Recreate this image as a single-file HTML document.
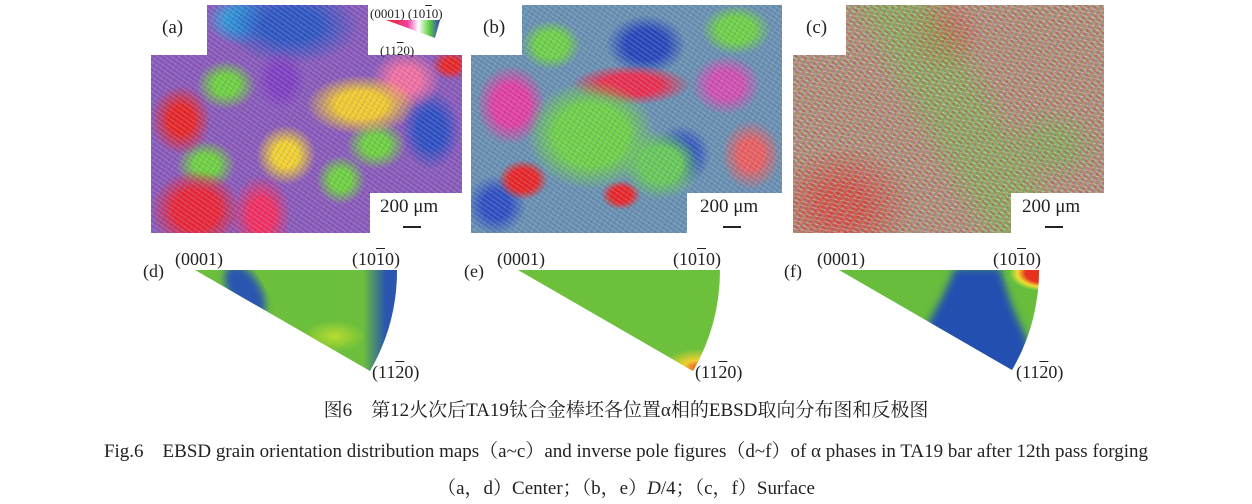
<!DOCTYPE html>
<html><head><meta charset="utf-8"><style>
html,body{margin:0;padding:0;background:#fff;}
body{width:1252px;height:504px;position:relative;overflow:hidden;font-family:"Liberation Serif","Noto Serif CJK SC",serif;}
.t{position:absolute;white-space:nowrap;color:#222;line-height:1;}
.ov{text-decoration:overline;}
.map{position:absolute;top:5px;width:311px;height:228px;}
.tex{position:absolute;left:0;top:0;width:100%;height:100%;
background:repeating-linear-gradient(35deg,rgba(255,255,255,.18) 0 1px,transparent 1px 4px),repeating-linear-gradient(-60deg,rgba(30,40,160,.15) 0 1px,transparent 1px 5px);}
</style></head><body>
<!-- (a) -->
<div class="map" style="left:151px;clip-path:polygon(56px 0,217px 0,217px 50px,311px 50px,311px 188px,219px 188px,219px 228px,0 228px,0 50px,56px 50px);
background:
radial-gradient(ellipse 30px 35px at 30px 115px,#e82828 40%,transparent 100%),
radial-gradient(ellipse 45px 40px at 45px 205px,#e82838 50%,transparent 100%),
radial-gradient(ellipse 30px 40px at 110px 210px,#f03060 40%,transparent 100%),
radial-gradient(ellipse 55px 30px at 210px 100px,#f0c830 45%,transparent 100%),
radial-gradient(ellipse 35px 30px at 255px 75px,#f070a0 40%,transparent 100%),
radial-gradient(ellipse 30px 30px at 135px 150px,#f0d030 40%,transparent 100%),
radial-gradient(ellipse 30px 25px at 75px 80px,#70d040 40%,transparent 100%),
radial-gradient(ellipse 30px 25px at 55px 160px,#70d040 40%,transparent 100%),
radial-gradient(ellipse 30px 25px at 225px 140px,#70d040 40%,transparent 100%),
radial-gradient(ellipse 25px 25px at 190px 175px,#70d040 40%,transparent 100%),
radial-gradient(ellipse 30px 40px at 280px 125px,#3050c0 45%,transparent 100%),
radial-gradient(ellipse 25px 30px at 130px 75px,#8040c0 45%,transparent 100%),
radial-gradient(ellipse 20px 15px at 300px 60px,#e82828 40%,transparent 100%),
radial-gradient(ellipse 70px 40px at 140px 20px,#3058c0 40%,transparent 100%),
radial-gradient(ellipse 35px 25px at 90px 15px,#30a0d8 40%,transparent 100%),
linear-gradient(#8a5ab8,#8a5ab8);">
<div class="tex"></div></div>
<!-- (b) -->
<div class="map" style="left:471px;clip-path:polygon(51px 0,311px 0,311px 188px,216px 188px,216px 228px,0 228px,0 50px,51px 50px);
background:
radial-gradient(ellipse 65px 55px at 120px 130px,#70d048 55%,transparent 100%),
radial-gradient(ellipse 40px 35px at 190px 160px,#68c858 50%,transparent 100%),
radial-gradient(ellipse 35px 40px at 40px 100px,#e040a0 50%,transparent 100%),
radial-gradient(ellipse 25px 20px at 52px 175px,#e82828 55%,transparent 100%),
radial-gradient(ellipse 20px 15px at 150px 190px,#e82828 50%,transparent 100%),
radial-gradient(ellipse 60px 20px at 160px 80px,#e83050 50%,transparent 100%),
radial-gradient(ellipse 35px 30px at 255px 80px,#d050b0 45%,transparent 100%),
radial-gradient(ellipse 30px 30px at 210px 150px,#3050c0 45%,transparent 100%),
radial-gradient(ellipse 30px 30px at 25px 200px,#3050c0 45%,transparent 100%),
radial-gradient(ellipse 40px 30px at 175px 40px,#2848b8 50%,transparent 100%),
radial-gradient(ellipse 30px 25px at 80px 40px,#70d048 50%,transparent 100%),
radial-gradient(ellipse 35px 25px at 265px 25px,#70d048 50%,transparent 100%),
radial-gradient(ellipse 30px 35px at 280px 150px,#e86060 40%,transparent 100%),
linear-gradient(#6a90b0,#6a90b0);">
<div class="tex"></div></div>
<!-- (c) -->
<div class="map" style="left:793px;clip-path:polygon(53px 0,311px 0,311px 188px,218px 188px,218px 228px,0 228px,0 50px,53px 50px);
background:
repeating-linear-gradient(50deg,rgba(232,40,40,.3) 0 2px,transparent 2px 5px),
repeating-linear-gradient(-40deg,rgba(90,200,70,.35) 0 2px,transparent 2px 6px),
repeating-linear-gradient(10deg,rgba(255,255,255,.3) 0 1px,transparent 1px 4px),
repeating-linear-gradient(100deg,rgba(60,70,200,.2) 0 1px,transparent 1px 7px),
linear-gradient(60deg,transparent 40%,rgba(100,200,70,.5) 48%,rgba(100,200,70,.5) 58%,transparent 66%),
radial-gradient(ellipse 70px 60px at 50px 200px,rgba(230,50,50,.7) 30%,transparent 100%),
radial-gradient(ellipse 40px 40px at 150px 30px,rgba(230,50,50,.5) 20%,transparent 100%),
radial-gradient(ellipse 50px 40px at 260px 140px,rgba(90,200,70,.5) 30%,transparent 100%),
linear-gradient(#b09080,#b09080);">
<div class="tex"></div></div>
<svg width="1252" height="504" style="position:absolute;left:0;top:0">
<defs>
<linearGradient id="lg" x1="0" y1="0" x2="1" y2="0"><stop offset="0" stop-color="#e82020"/><stop offset=".4" stop-color="#f040a0"/><stop offset=".6" stop-color="#fff"/><stop offset=".8" stop-color="#60d040"/><stop offset="1" stop-color="#3040c0"/></linearGradient>
<linearGradient id="dg2" x1="0" y1="0" x2="1" y2="0"><stop offset="0.82" stop-color="#2a55b0" stop-opacity="0"/><stop offset="0.93" stop-color="#2a55b0"/></linearGradient>
<radialGradient id="dg3" cx="0.68" cy="0.65" r="0.15"><stop offset="0" stop-color="#b8dc30"/><stop offset="1" stop-color="#b8dc30" stop-opacity="0"/></radialGradient>
<radialGradient id="eg1" cx="0.88" cy="0.95" r="0.18"><stop offset="0" stop-color="#f04020"/><stop offset="0.4" stop-color="#f0d030"/><stop offset="1" stop-color="#f0d030" stop-opacity="0"/></radialGradient>
<radialGradient id="fg1" cx="1" cy="0.05" r="0.2"><stop offset="0" stop-color="#e83020"/><stop offset="0.45" stop-color="#e83020"/><stop offset="0.65" stop-color="#f0e030"/><stop offset="0.85" stop-color="#60c040"/><stop offset="1" stop-color="#60c040" stop-opacity="0"/></radialGradient>
<filter id="bl"><feGaussianBlur stdDeviation="4"/></filter>
<clipPath id="cd"><path d="M195,270 L397,270 A202,202 0 0 1 370,371 Z"/></clipPath>
<clipPath id="ce"><path d="M518,270 L720,270 A202,202 0 0 1 693,371 Z"/></clipPath>
<clipPath id="cf"><path d="M839,270 L1039,270 A200,200 0 0 1 1012,370 Z"/></clipPath>
</defs>
<path d="M386,20 L440,20 L435,38 Z" fill="url(#lg)"/>
<g clip-path="url(#cd)">
<rect x="195" y="268" width="205" height="105" fill="#6cbf3c"/>
<ellipse cx="245" cy="292" rx="16" ry="30" transform="rotate(-30 245 292)" fill="#2a55b0" filter="url(#bl)"/>
<rect x="195" y="268" width="205" height="105" fill="url(#dg2)"/>
<rect x="195" y="268" width="205" height="105" fill="url(#dg3)"/>
</g>
<g clip-path="url(#ce)">
<rect x="518" y="268" width="205" height="105" fill="#6cc03c"/>
<rect x="518" y="268" width="205" height="105" fill="url(#eg1)"/>
</g>
<g clip-path="url(#cf)">
<rect x="839" y="268" width="205" height="105" fill="#68bd3c"/>
<path d="M955,268 L1000,268 Q1010,305 1025,335 L1040,380 L890,380 Q935,320 955,268 Z" fill="#2350b0" filter="url(#bl)"/>
<rect x="839" y="268" width="205" height="105" fill="url(#fg1)"/>
</g>
</svg>
<div class="t" style="left:162px;top:18px;font-size:19px">(a)</div>
<div class="t" style="left:483px;top:18px;font-size:19px">(b)</div>
<div class="t" style="left:806px;top:18px;font-size:19px">(c)</div>
<div class="t" style="left:370px;top:7px;font-size:13px">(0001) (10<span class="ov">1</span>0)</div>
<div class="t" style="left:380px;top:44px;font-size:13px">(11<span class="ov">2</span>0)</div>
<div class="t" style="left:380px;top:197px;font-size:19px">200 μm</div>
<div class="t" style="left:700px;top:197px;font-size:19px">200 μm</div>
<div class="t" style="left:1022px;top:197px;font-size:19px">200 μm</div>
<div style="position:absolute;left:403px;top:226px;width:18px;height:2px;background:#222"></div>
<div style="position:absolute;left:723px;top:226px;width:18px;height:2px;background:#222"></div>
<div style="position:absolute;left:1045px;top:226px;width:18px;height:2px;background:#222"></div>
<div class="t" style="left:143px;top:262px;font-size:18px">(d)</div>
<div class="t" style="left:175px;top:250px;font-size:18px">(0001)</div>
<div class="t" style="left:352px;top:250px;font-size:18px">(10<span class="ov">1</span>0)</div>
<div class="t" style="left:372px;top:363px;font-size:18px">(11<span class="ov">2</span>0)</div>
<div class="t" style="left:464px;top:262px;font-size:18px">(e)</div>
<div class="t" style="left:497px;top:250px;font-size:18px">(0001)</div>
<div class="t" style="left:673px;top:250px;font-size:18px">(10<span class="ov">1</span>0)</div>
<div class="t" style="left:695px;top:363px;font-size:18px">(11<span class="ov">2</span>0)</div>
<div class="t" style="left:784px;top:262px;font-size:18px">(f)</div>
<div class="t" style="left:817px;top:250px;font-size:18px">(0001)</div>
<div class="t" style="left:993px;top:250px;font-size:18px">(10<span class="ov">1</span>0)</div>
<div class="t" style="left:1016px;top:363px;font-size:18px">(11<span class="ov">2</span>0)</div>
<div class="t" style="left:0;width:1252px;text-align:center;top:401px;font-size:19px">图6　第12火次后TA19钛合金棒坯各位置α相的EBSD取向分布图和反极图</div>
<div class="t" style="left:0;width:1252px;text-align:center;top:442px;font-size:19px">Fig.6　EBSD grain orientation distribution maps（a~c）and inverse pole figures（d~f）of α phases in TA19 bar after 12th pass forging</div>
<div class="t" style="left:0;width:1252px;text-align:center;top:479px;font-size:19px">（a，d）Center；（b，e）<i>D</i>/4；（c，f）Surface</div>
</body></html>
